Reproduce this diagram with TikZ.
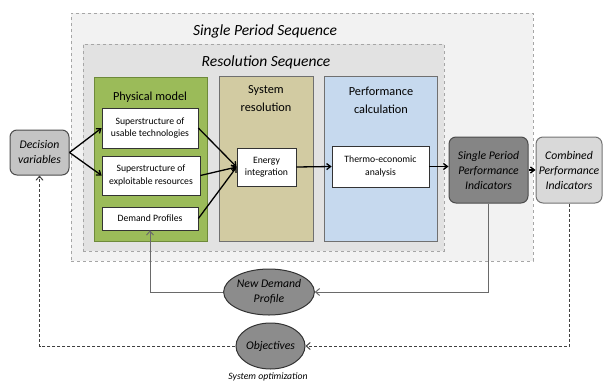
\documentclass[tikz,border=0pt]{standalone}
\usepackage{fontspec}
\setmainfont{Carlito}
\usetikzlibrary{arrows.meta,shapes.geometric}
\definecolor{outerfill}{HTML}{F2F2F2}
\definecolor{innerfill}{HTML}{E2E2E2}
\definecolor{dashgray}{HTML}{A6A6A6}
\definecolor{greenfill}{HTML}{9BBB59}
\definecolor{greenline}{HTML}{6E8A3A}
\definecolor{tanfill}{HTML}{D2CBA2}
\definecolor{bluefill}{HTML}{C6D9EE}
\definecolor{boxline}{HTML}{707070}
\definecolor{darkind}{HTML}{858585}
\definecolor{lightind}{HTML}{D9D9D9}
\definecolor{dvfill}{HTML}{C4C4C4}
\definecolor{ellfill}{HTML}{8C8C8C}
\definecolor{fbline}{HTML}{6A6A6A}
\tikzset{
  seqbox/.style={draw=dashgray, dashed, line width=0.8pt, minimum width=#1},
  modbox/.style={draw=boxline, line width=1pt, inner sep=0pt},
  whitebox/.style={draw=black!80, fill=white, line width=0.7pt, inner sep=0pt, align=center, font=\fontsize{9.7}{12.5}\selectfont},
  indbox/.style={draw=black!70, rounded corners=7pt, line width=1pt, inner sep=0pt, align=center, font=\fontsize{11.7}{15}\selectfont\itshape},
  ell/.style={ellipse, draw=black!80, fill=ellfill, line width=1pt, inner sep=0pt, align=center, font=\fontsize{11.7}{15}\selectfont\itshape},
  title/.style={align=center, font=\fontsize{12.3}{18}\selectfont},
  seqtitle/.style={font=\fontsize{15.5}{18}\selectfont\itshape},
  arr/.style={-{Straight Barb[length=4pt,width=6pt]}, line width=1.3pt, black},
  fb/.style={-{Straight Barb[length=4pt,width=7pt]}, line width=1pt, fbline},
  fbd/.style={-{Straight Barb[length=4pt,width=7pt]}, line width=1pt, black!75, dash pattern=on 3pt off 2pt},
}
\begin{document}
\begin{tikzpicture}[x=1pt,y=-1pt]
\useasboundingbox (0,0) rectangle (604,383);
% sequences
\node[seqbox=462pt, fill=outerfill, minimum height=248pt] (outer) at (302,137) {};
\node[seqbox=361pt, fill=innerfill, minimum height=207pt] (inner) at (263.5,147.5) {};
\node[seqtitle] (t1) at (265,31) {Single Period Sequence};
\node[seqtitle] (t2) at (266,62) {Resolution Sequence};
% model boxes
\node[modbox, draw=greenline, fill=greenfill, minimum width=113pt, minimum height=164pt] (phys) at (150.5,159) {};
\node[modbox, fill=tanfill, minimum width=94pt, minimum height=165pt] (sysres) at (266,158.5) {};
\node[modbox, fill=bluefill, minimum width=113pt, minimum height=165pt] (perf) at (380.5,158.5) {};
\node[title] (t3) at (150,97) {Physical model};
\node[title] (t4) at (266,99) {System\\resolution};
\node[title] (t5) at (381,100) {Performance\\calculation};
% white boxes
\node[whitebox, minimum width=96pt, minimum height=40pt] (usable) at (150,128) {Superstructure of\\usable technologies};
\node[whitebox, minimum width=98pt, minimum height=39pt] (exploit) at (151,175.5) {Superstructure of\\exploitable resources};
\node[whitebox, minimum width=96pt, minimum height=23pt] (demand) at (150,218.5) {Demand Profiles};
\node[whitebox, minimum width=59pt, minimum height=38pt] (energy) at (266.5,167) {Energy\\integration};
\node[whitebox, minimum width=97pt, minimum height=41pt] (thermo) at (380.5,166.5) {Thermo-economic\\analysis};
% indicators
\node[indbox, fill=darkind, minimum width=79pt, minimum height=66pt] (sppi) at (488.5,170) {Single Period\\Performance\\Indicators};
\node[indbox, draw=black!55, fill=lightind, minimum width=66pt, minimum height=66pt] (cpi) at (569,170) {Combined\\Performance\\Indicators};
\node[indbox, fill=dvfill, minimum width=59pt, minimum height=45pt] (dv) at (39.5,152.5) {Decision\\variables};
% ellipses
\node[ell, minimum width=70pt, minimum height=46pt] (ndp) at (269,292) {New Demand\\Profile};
\node[ell, minimum width=69pt, minimum height=46pt] (obj) at (270.5,346) {Objectives};
\node[font=\fontsize{9.7}{11}\selectfont\itshape] (sysopt) at (268,377) {System optimization};
% arrows
\draw[arr] (dv.east) -- (usable.west);
\draw[arr] (dv.east) -- (exploit.west);
\draw[arr] (usable.east) -- (energy.west);
\draw[arr] (exploit.east) -- (energy.west);
\draw[arr] (demand.east) -- (energy.west);
\draw[arr] (energy.east) -- (thermo.west);
\draw[arr] (thermo.east) -- (sppi.west |- thermo.east);
\draw[arr] (sppi.east) -- (cpi.west);
% feedback
\draw[fb] (sppi.south) |- (ndp.east);
\draw[fb] (ndp.west) -| (demand.south);
\draw[fbd] (cpi.south) |- (obj.east);
\draw[fbd] (obj.west) -| (dv.south);
\end{tikzpicture}
\end{document}
